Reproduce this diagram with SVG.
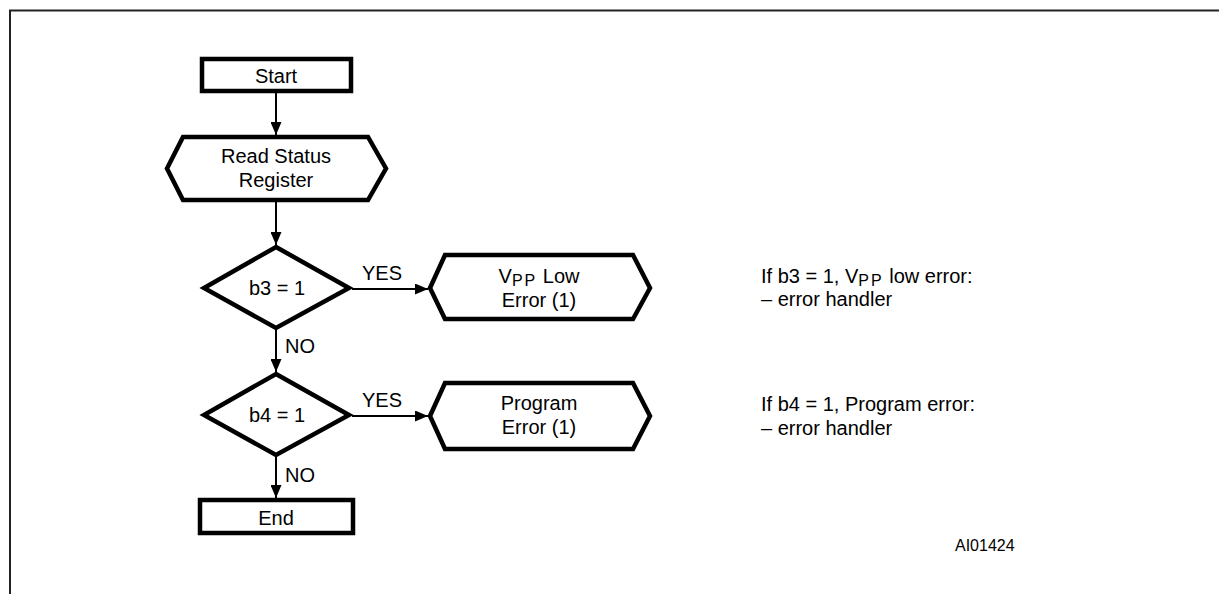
<svg xmlns="http://www.w3.org/2000/svg" width="1219" height="594" viewBox="0 0 1219 594">
<style>
text{font-family:"Liberation Sans",Arial,sans-serif;font-size:20px;fill:#000}
.c{text-anchor:middle}
.node{fill:#fff;stroke:#000;stroke-width:4.5;stroke-linejoin:miter}
.conn{stroke:#000;stroke-width:2;fill:none}
.sub{font-size:16px;letter-spacing:2px}
</style>
<defs>
<marker id="ah" markerWidth="13" markerHeight="11" refX="13" refY="5.5" orient="auto" markerUnits="userSpaceOnUse">
<path d="M0,0 L13,5.5 L0,11 Z" fill="#000"/>
</marker>
</defs>
<rect width="1219" height="594" fill="#fff"/>
<g id="frame">
<path d="M10,594 V10.5 H1219" fill="none" stroke="#222" stroke-width="2"/>
</g>
<g id="connectors">
<line class="conn" x1="276" y1="93" x2="276" y2="135" marker-end="url(#ah)"/>
<line class="conn" x1="276" y1="202" x2="276" y2="245" marker-end="url(#ah)"/>
<line class="conn" x1="276" y1="330" x2="276" y2="372" marker-end="url(#ah)"/>
<line class="conn" x1="276" y1="457" x2="276" y2="498" marker-end="url(#ah)"/>
<line class="conn" x1="352" y1="289" x2="428" y2="289" marker-end="url(#ah)"/>
<line class="conn" x1="352" y1="416" x2="428" y2="416" marker-end="url(#ah)"/>
<text x="362" y="280">YES</text>
<text x="362" y="407">YES</text>
<text x="285" y="353">NO</text>
<text x="285" y="482">NO</text>
</g>
<g id="start">
<rect class="node" x="202" y="59" width="149" height="32"/>
<text class="c" x="276" y="83">Start</text>
</g>
<g id="read">
<polygon class="node" points="167,168.5 183,137 368,137 386,168.5 368,200 183,200"/>
<text class="c" x="276" y="163">Read Status</text>
<text class="c" x="276" y="187">Register</text>
</g>
<g id="b3">
<polygon class="node" points="276,247 349,288 276,328 204,288"/>
<text class="c" x="277" y="295">b3 = 1</text>
</g>
<g id="vpp">
<polygon class="node" points="430,288 445,255 633,255 650,288 633,319 445,319"/>
<text class="c" x="539" y="283">V<tspan class="sub" dy="3">PP</tspan><tspan dy="-3"> Low</tspan></text>
<text class="c" x="539" y="307">Error (1)</text>
</g>
<g id="b4">
<polygon class="node" points="276,374 349,415 276,455 204,415"/>
<text class="c" x="277" y="422">b4 = 1</text>
</g>
<g id="program">
<polygon class="node" points="430,416 445,383 633,383 650,416 633,449 445,449"/>
<text class="c" x="539" y="410">Program</text>
<text class="c" x="539" y="434">Error (1)</text>
</g>
<g id="end">
<rect class="node" x="200" y="500" width="153" height="33"/>
<text class="c" x="276" y="525">End</text>
</g>
<g id="notes">
<text x="761" y="283">If b3 = 1, V<tspan class="sub" dy="3">PP</tspan><tspan dy="-3"> low error:</tspan></text>
<text x="761" y="306">– error handler</text>
<text x="761" y="411">If b4 = 1, Program error:</text>
<text x="761" y="435">– error handler</text>
<text x="955" y="551" style="font-size:16px">AI01424</text>
</g>
</svg>
